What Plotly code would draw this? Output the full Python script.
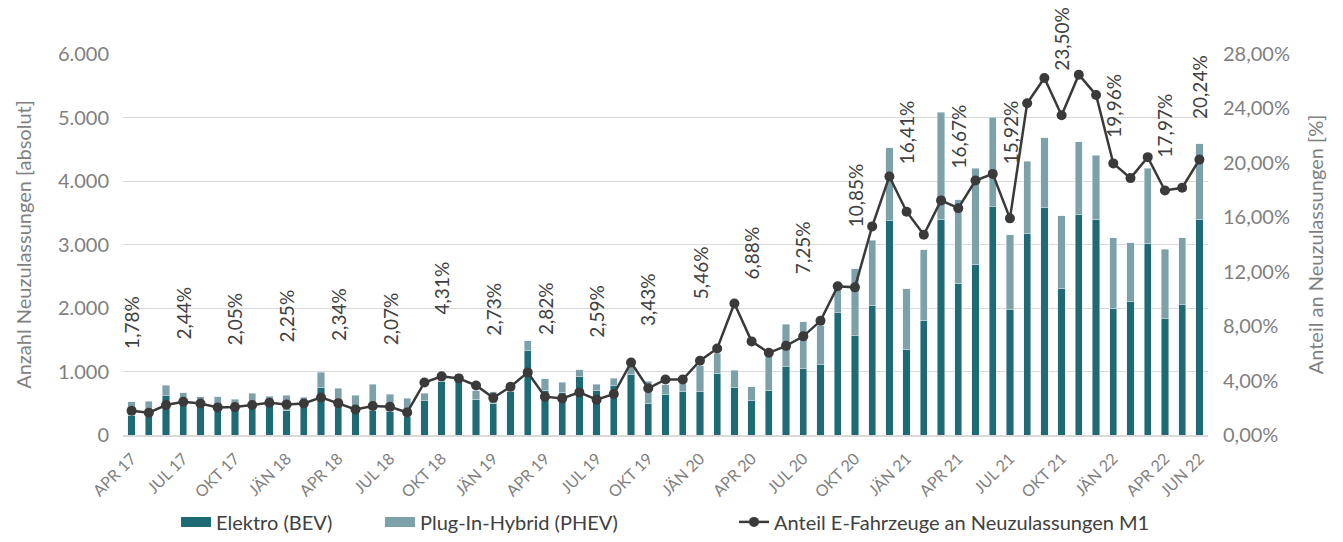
import plotly.graph_objects as go

MONTH_NAMES = ['JÄN', 'FEB', 'MÄR', 'APR', 'MAI', 'JUN', 'JUL', 'AUG', 'SEP', 'OKT', 'NOV', 'DEZ']

# months APR 17 .. JUN 22
months = [f'{m} {y}' for y in range(17, 23) for m in MONTH_NAMES][3:66]

bev = [310, 290, 618, 460, 560, 430, 400, 420, 500, 383, 445, 744,
       560, 367, 393, 367, 288, 540, 838, 935, 561, 498, 692, 1330,
       707, 675, 917, 695, 780, 945, 500, 632, 681, 681, 969, 744,
       540, 707, 1074, 1043, 1106, 1923, 1562, 2044, 3375, 1352, 1808, 3396,
       2389, 2688, 3595, 1970, 3175, 3579, 2306, 3479, 3396, 1996, 2096, 3018,
       1834, 2054, 3396]
phev = [214, 244, 168, 205, 40, 173, 166, 235, 113, 246, 152, 241,
        174, 262, 409, 272, 288, 115, 22, 30, 136, 183, 15, 153,
        182, 153, 110, 107, 116, 129, 345, 158, 157, 409, 315, 278,
        220, 524, 671, 739, 613, 356, 1053, 1026, 1145, 954, 1111, 1687,
        1316, 1514, 1409, 1184, 1138, 1106, 1147, 1143, 1006, 1111, 933, 1184,
        1095, 1053, 1189]
# Anteil E-Fahrzeuge an Neuzulassungen M1 in %
share = [1.78, 1.64, 2.20, 2.44, 2.32, 2.03, 2.05, 2.20, 2.37, 2.25, 2.32, 2.76,
         2.34, 1.88, 2.13, 2.07, 1.66, 3.86, 4.31, 4.16, 3.64, 2.73, 3.55, 4.60,
         2.82, 2.69, 3.13, 2.59, 3.01, 5.33, 3.43, 4.08, 4.08, 5.46, 6.36, 9.66,
         6.88, 6.04, 6.55, 7.25, 8.39, 10.93, 10.85, 15.33, 19.00, 16.41, 14.72, 17.24,
         16.67, 18.70, 19.19, 15.92, 24.38, 26.24, 23.50, 26.48, 24.99, 19.96, 18.88, 20.42,
         17.97, 18.17, 20.24]

tick_months = months[::3] + [months[-1]]

DARK = '#1F6B75'
LIGHT = '#7CA1A9'
LINE = '#3A3A3A'
GREY = '#7F7F7F'
TEXT = '#404040'
FONT = 'Lato, Open Sans, sans-serif'

fig = go.Figure()
fig.add_trace(go.Bar(x=months, y=bev, name='Elektro (BEV)', marker_color=DARK,
                     showlegend=False))
fig.add_trace(go.Bar(x=months, y=phev, name='Plug-In-Hybrid (PHEV)', marker_color=LIGHT,
                     showlegend=False))
fig.add_trace(go.Scatter(x=months, y=[s / 100 for s in share], yaxis='y2',
                         name='Anteil E-Fahrzeuge an Neuzulassungen M1',
                         mode='lines+markers',
                         line=dict(color=LINE, width=2.5),
                         marker=dict(color=LINE, size=10),
                         legend='legend3'))

# wide legend swatches like excel (legend-only dummies)
fig.add_trace(go.Scatter(x=[None], y=[None], mode='lines', name='Elektro (BEV)',
                         line=dict(color=DARK, width=11), legend='legend'))
fig.add_trace(go.Scatter(x=[None], y=[None], mode='lines', name='Plug-In-Hybrid (PHEV)',
                         line=dict(color=LIGHT, width=11), legend='legend2'))

# rotated percentage labels, hand nudged like in the original
label_gap = {'OKT 20': 58, 'JÄN 21': 45, 'APR 21': 38, 'JUL 21': 52,
             'OKT 21': 42, 'JÄN 22': 24, 'APR 22': 31, 'JUN 22': 39}
for m in tick_months:
    v = share[months.index(m)]
    fig.add_annotation(x=m, y=v / 100, xref='x', yref='y2',
                       text=f'{v:.2f}%'.replace('.', ','),
                       textangle=-90, showarrow=False,
                       yanchor='bottom', yshift=label_gap.get(m, 60),
                       font=dict(size=19, color=TEXT, family=FONT))

legend_style = dict(orientation='h', xref='container', yref='container',
                    xanchor='left', y=0.023, yanchor='middle',
                    font=dict(size=20, color=TEXT, family=FONT),
                    bgcolor='rgba(0,0,0,0)')

# page body has an 8px margin, so the figure is shrunk by that
fig.update_layout(
    width=1327, height=526,
    margin=dict(l=115, r=127, t=46, b=99, autoexpand=False),
    plot_bgcolor='white', paper_bgcolor='white',
    barmode='stack', bargap=0.58,
    separators=',.',
    font=dict(family=FONT, color=GREY),
    showlegend=True,
    legend=dict(x=0.1266, **legend_style),
    legend2=dict(x=0.2803, **legend_style),
    legend3=dict(x=0.5471, **legend_style),
    xaxis=dict(type='category', range=[-0.5, 62.5],
               tickvals=tick_months, ticktext=tick_months,
               tickangle=-45, tickfont=dict(size=16, color=GREY),
               showgrid=False, showline=True, linecolor='#D9D9D9', linewidth=2,
               ticks='', ticklabelstandoff=6),
    yaxis=dict(range=[0, 6000], tickvals=[0, 1000, 2000, 3000, 4000, 5000, 6000],
               tickformat=',d', tickfont=dict(size=20, color=GREY),
               showgrid=True, gridcolor='#D9D9D9', gridwidth=1,
               zeroline=False, ticklabelstandoff=13,
               title=dict(text='Anzahl Neuzulassungen [absolut]',
                          font=dict(size=20, color=GREY), standoff=20)),
    yaxis2=dict(range=[0, 0.28], tickvals=[i / 100 for i in range(0, 29, 4)],
                tickformat='.2%', tickfont=dict(size=20, color=GREY),
                overlaying='y', side='right', showgrid=False, zeroline=False,
                ticklabelstandoff=14,
                title=dict(text='Anteil an Neuzulassungen [%]',
                           font=dict(size=20, color=GREY), standoff=20)),
)

fig.write_html('out.html')
